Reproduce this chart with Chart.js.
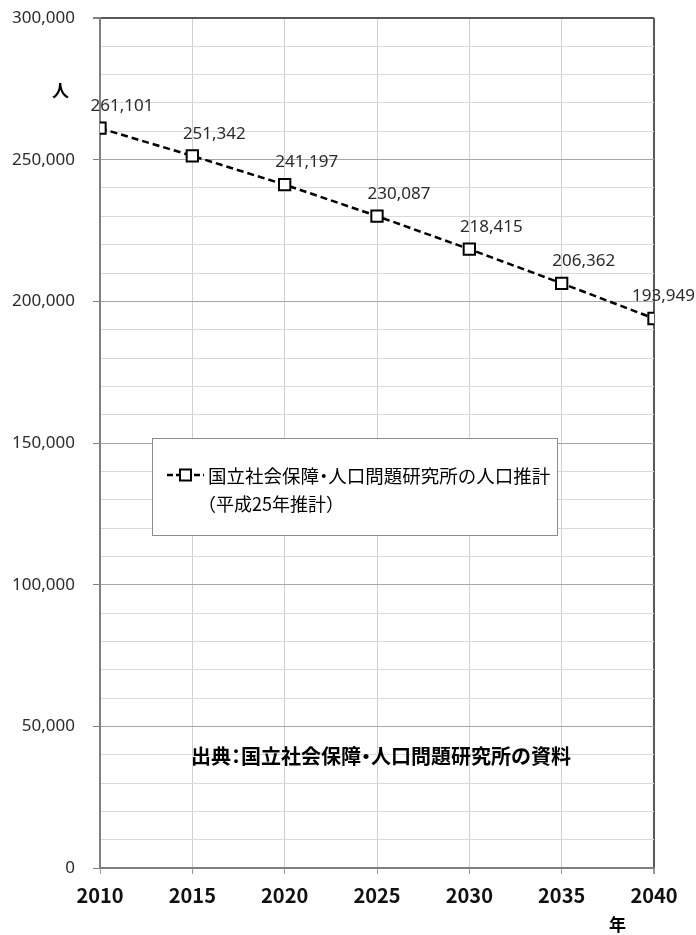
<!DOCTYPE html>
<html lang="ja">
<head>
<meta charset="utf-8">
<title>将来推計人口</title>
<script src="https://cdn.jsdelivr.net/npm/chart.js@4.4.1/dist/chart.umd.min.js"></script>
<style>
    html, body { margin: 0; padding: 0; background: #fff; }
    #wrap { width: 696px; height: 935px; }
</style>
</head>
<body>
<div id="wrap"><canvas id="popChart" width="696" height="935"></canvas></div>
<script>
// 国立社会保障・人口問題研究所の人口推計（平成25年推計）
const years = [2010, 2015, 2020, 2025, 2030, 2035, 2040];
const population = [261101, 251342, 241197, 230087, 218415, 206362, 193949];
const seriesName = '国立社会保障・人口問題研究所の人口推計';
const seriesNote = '（平成25年推計）';
const sourceText = '出典：国立社会保障・人口問題研究所の資料';
const yUnit = '人';
const xUnit = '年';

const JP_FONT = '"Noto Sans CJK JP", "Noto Sans", sans-serif';
const NUM_FONT = '"Noto Sans", "Open Sans", sans-serif';

// draws Japanese text with half-width punctuation (like a proportional gothic font)
function drawJP(ctx, text, x, y) {
    const narrow = '・：';
    let cx = x;
    for (const ch of text) {
        const w = ctx.measureText(ch).width;
        if (narrow.includes(ch)) {
            ctx.fillText(ch, cx - w / 4, y);
            cx += w / 2;
        } else {
            ctx.fillText(ch, cx, y);
            cx += w;
        }
    }
}

// data labels above each point (shifted a little to the right, like the original)
const pointLabels = {
    id: 'pointLabels',
    afterDatasetsDraw(chart) {
        const ctx = chart.ctx;
        const meta = chart.getDatasetMeta(0);
        ctx.save();
        ctx.font = '17px ' + NUM_FONT;
        ctx.fillStyle = '#2b2b2b';
        ctx.textAlign = 'center';
        ctx.textBaseline = 'middle';
        meta.data.forEach((pt, i) => {
            const text = population[i].toLocaleString('en-US');
            const half = ctx.measureText(text).width / 2;
            let x = pt.x + 22;
            x = Math.min(x, chart.width - half - 1);
            ctx.fillText(text, x, pt.y - 22);
        });
        ctx.restore();
    }
};

// legend box, unit labels and source note
const annotations = {
    id: 'annotations',
    afterDraw(chart) {
        const ctx = chart.ctx;
        const ds = chart.data.datasets[0];
        ctx.save();

        // legend box
        ctx.fillStyle = '#fff';
        ctx.strokeStyle = '#8c8c8c';
        ctx.lineWidth = 1;
        ctx.fillRect(152.5, 438.5, 405, 97);
        ctx.strokeRect(152.5, 438.5, 405, 97);

        // legend symbol
        ctx.strokeStyle = '#000';
        ctx.lineWidth = ds.borderWidth;
        ctx.setLineDash([6, 3]);
        ctx.beginPath();
        ctx.moveTo(167, 475);
        ctx.lineTo(204, 475);
        ctx.stroke();
        ctx.setLineDash([]);
        ctx.lineWidth = 2;
        ctx.fillStyle = '#fff';
        ctx.fillRect(180, 469.5, 11, 11);
        ctx.strokeRect(180, 469.5, 11, 11);

        // legend text
        ctx.fillStyle = '#000';
        ctx.textAlign = 'left';
        ctx.textBaseline = 'middle';
        ctx.font = '18.5px ' + JP_FONT;
        drawJP(ctx, seriesName, 208, 476);
        ctx.font = '18px ' + JP_FONT;
        drawJP(ctx, seriesNote, 198, 504);

        // source
        ctx.font = 'bold 20px ' + JP_FONT;
        drawJP(ctx, sourceText, 191, 756);

        // units
        ctx.font = 'bold 17px ' + JP_FONT;
        ctx.fillText(yUnit, 52, 91);
        ctx.fillText(xUnit, 609, 925);

        ctx.restore();
    }
};

const ctx = document.getElementById('popChart').getContext('2d');
const popChart = new Chart(ctx, {
    type: 'line',
    data: {
        datasets: [{
            label: seriesName,
            data: years.map((y, i) => ({ x: y, y: population[i] })),
            borderColor: '#000',
            borderWidth: 2.5,
            borderDash: [7, 4],
            tension: 0,
            fill: false,
            pointStyle: 'rect',
            pointRadius: 8,
            pointHoverRadius: 8,
            pointBorderWidth: 2,
            pointBorderColor: '#000',
            pointBackgroundColor: '#fff'
        }]
    },
    options: {
        responsive: false,
        animation: false,
        layout: {
            padding: { top: 18, right: 42, bottom: 0, left: 0 }
        },
        plugins: {
            legend: { display: false },
            tooltip: { enabled: false }
        },
        scales: {
            x: {
                type: 'linear',
                min: 2010,
                max: 2040,
                afterFit(scale) { scale.height = 67; },
                border: { color: '#808080', width: 2 },
                grid: {
                    color: c => c.tick && c.tick.value === 2040 ? '#595959' : '#cfcfcf',
                    lineWidth: c => c.tick && c.tick.value === 2040 ? 2 : 1,
                    tickColor: '#9a9a9a',
                    tickLength: 6
                },
                ticks: {
                    stepSize: 5,
                    autoSkip: false,
                    maxRotation: 0,
                    padding: 9,
                    color: '#111',
                    font: { family: JP_FONT, size: 20, weight: 'bold' },
                    callback: v => String(v)
                }
            },
            y: {
                min: 0,
                max: 300000,
                afterFit(scale) {
                    scale.width = 100;
                    scale.paddingTop = 0;
                },
                border: { color: '#808080', width: 2 },
                grid: {
                    color: c => {
                        const v = c.tick ? c.tick.value : 0;
                        if (v === 300000) return '#595959';
                        return v % 50000 === 0 ? '#a6a6a6' : '#dadada';
                    },
                    lineWidth: c => c.tick && c.tick.value === 300000 ? 2 : 1,
                    tickColor: c => c.tick && c.tick.value % 50000 === 0 ? '#808080' : 'rgba(0,0,0,0)',
                    tickLength: 7
                },
                ticks: {
                    stepSize: 10000,
                    autoSkip: false,
                    padding: 18,
                    color: '#2b2b2b',
                    font: { family: NUM_FONT, size: 17 },
                    callback: v => v % 50000 === 0 ? v.toLocaleString('en-US') : ''
                }
            }
        }
    },
    plugins: [pointLabels, annotations]
});
</script>
</body>
</html>
